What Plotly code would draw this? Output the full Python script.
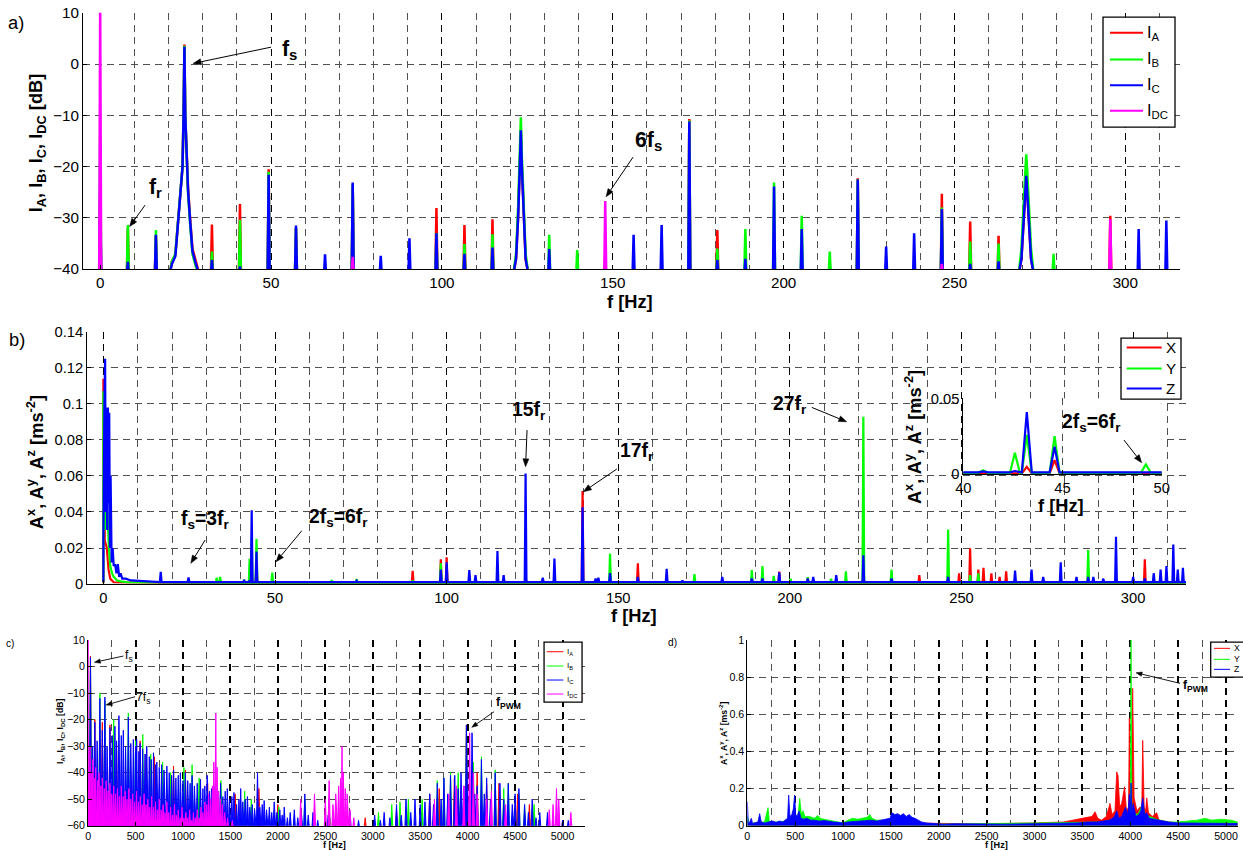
import math
import plotly.graph_objects as go

# Reference pixel coordinates (1243 x 850) are mapped to figure pixels.  The page is
# shown with an 8 px body margin and is photographed slightly scaled, so positions
# are converted with the factors below (measured from earlier renders).
PW, PH = 1243, 850
KX, KY = 1259 / 1243, 866 / 850
MARG = 8
FW, FH = 1251, 858
KF = (KX + KY) / 2           # font / size compensation
RED, GREEN, BLUE, MAGENTA = "#ff0000", "#00ff00", "#0000ff", "#ff00ff"
FONT = "Liberation Sans, Arial, Helvetica, sans-serif"
GRID = "#505050"
DASH = "7px,5px"

# ---------------- Panel a: phase / DC current spectra [dB] ----------------
A_IA = [(0, -25), (8.1, -32), (16.3, -33.5), (32.7, -31.3), (40.9, -27.3), (49.3, -20.5), (57.3, -32),
        (73.9, -23.5), (98.4, -28.1), (106.6, -31.4), (114.8, -30.3), (147.8, -39), (172.4, -10.7),
        (180.6, -32.4), (221.7, -22.3), (246.3, -25.3), (254.6, -30.7), (262.9, -33.5), (295.6, -29.6)]
A_IB = [(0, -14), (8.1, -31.4), (16.3, -32.4), (32.7, -36.6), (40.9, -30.4), (49.3, -21), (57.3, -32),
        (73.9, -23.5), (98.4, -33), (106.6, -35.1), (114.8, -33.2), (131.4, -33.3), (139.6, -36.3),
        (172.4, -11), (180.6, -36), (188.8, -32.2), (197.2, -23.1), (205.3, -29.6), (213.5, -36.6),
        (221.7, -22.5), (246.3, -28), (254.6, -34.6), (262.9, -35), (279.0, -37)]
A_IC = [(0, -26), (8.1, -38.6), (16.3, -33.3), (32.7, -38.2), (40.9, -39.5), (49.3, -21.6), (57.3, -31.5),
        (65.8, -37.1), (73.9, -23.1), (82.1, -37.4), (90.5, -34), (98.4, -33), (106.6, -37), (114.8, -35.8),
        (131.4, -36.1), (156.1, -33.3), (164.3, -31.4), (172.4, -11.2), (180.6, -38.2), (188.8, -38),
        (197.2, -23.9), (205.3, -32.2), (221.7, -22.5), (230.0, -35.6), (238.2, -33), (246.3, -28.3),
        (254.6, -39), (262.9, -38.5), (303.9, -32.2), (312.0, -30.5)]
A_IDC = [(0, 12), (73.9, -37.6), (147.8, -26.7), (246.3, -39), (295.6, -30.3)]

# broad peaks (fs, 5fs, 11fs) read point by point
A_FS_F = [20.3, 21.0, 22.0, 22.9, 23.6, 24.1, 24.4, 24.65, 24.9, 25.3, 25.7, 26.3, 27.0, 28.0, 29.0]
A_FS_IA = [-41, -38.5, -37.2, -30, -25, -20, -10, 3.8, -10, -18, -24, -30, -36, -38.5, -41]
A_FS_IB = [-41, -38.5, -37, -30, -25, -20, -10, 3.6, -10, -19, -25, -31, -37, -39.5, -41]
A_FS_IC = [-41, -39, -37.5, -30.5, -25.5, -20, -10, 3.4, -10, -18.5, -24.5, -30.5, -36.5, -39, -41]
A_5FS_F = [120.9, 121.7, 122.3, 122.8, 123.1, 123.4, 123.9, 124.5, 125.3]
A_5FS_IA = [-41, -38, -30, -20, -13.5, -20, -30, -38, -41]
A_5FS_IB = [-41, -37, -28, -18, -10.4, -18, -28, -37, -41]
A_5FS_IC = [-41, -38, -30, -20, -12.9, -20, -30, -38, -41]
A_11FS_F = [268.8, 269.6, 270.3, 270.7, 271.0, 271.3, 271.7, 272.4, 273.2]
A_11FS_IA = [-41, -38, -30, -25, -22.5, -25, -30, -38, -41]
A_11FS_IB = [-41, -36, -27, -21, -17.6, -21, -27, -36, -41]
A_11FS_IC = [-41, -38, -30, -25, -21.8, -25, -30, -38, -41]

# ---------------- Panel b: vibration spectra [m s^-2] ----------------
B_X = [(43.2, 0.0048), (44.6, 0.0092), (90.1, 0.0074), (98.3, 0.0137), (100.0, 0.0148), (123.0, 0.004),
       (139.6, 0.0516), (155.7, 0.0115), (196.9, 0.0069), (221.4, 0.004), (237.7, 0.005), (249.3, 0.006),
       (252.5, 0.0198), (254.9, 0.008), (256.4, 0.009), (258.7, 0.006), (261.1, 0.004), (263.0, 0.007),
       (303.4, 0.0137)]
B_Y = [(33.0, 0.0035), (34.0, 0.004), (41.0, 0.0025), (42.6, 0.014), (43.2, 0.0258), (44.6, 0.025),
       (49.2, 0.0064), (66.5, 0.0022), (73.8, 0.0028), (90.1, 0.002), (98.3, 0.0115), (123.0, 0.003),
       (131.4, 0.003), (139.6, 0.005), (147.6, 0.017), (172.2, 0.0055), (188.9, 0.0078), (192.0, 0.010),
       (195.3, 0.0045), (200.2, 0.003), (205.2, 0.0038), (212.0, 0.003), (216.3, 0.007), (221.4, 0.0928),
       (229.6, 0.008), (246.1, 0.0303), (252.5, 0.005), (254.9, 0.006), (286.9, 0.0189), (295.0, 0.004)]
B_Z = [(16.7, 0.0068), (24.8, 0.0037), (41.0, 0.0018), (42.6, 0.002), (43.2, 0.041), (44.6, 0.018),
       (63.0, 0.0015), (73.8, 0.0018), (98.3, 0.0081), (100.0, 0.012), (106.6, 0.0078), (108.4, 0.005),
       (114.8, 0.0183), (116.6, 0.005), (123.0, 0.0614), (128.0, 0.0035), (131.4, 0.0142), (139.6, 0.0426),
       (143.4, 0.003), (144.2, 0.0035), (147.6, 0.006), (155.7, 0.004), (164.1, 0.0085), (168.7, 0.002),
       (180.3, 0.004), (188.9, 0.003), (192.0, 0.003), (196.9, 0.0065), (205.2, 0.003), (206.8, 0.004),
       (213.5, 0.005), (221.4, 0.016), (229.6, 0.003), (246.1, 0.004), (265.6, 0.0075), (270.4, 0.008),
       (273.8, 0.004), (278.9, 0.012), (283.5, 0.004), (286.9, 0.004), (288.4, 0.004), (291.3, 0.003),
       (295.0, 0.0262), (300.0, 0.004), (303.4, 0.003), (306.0, 0.006), (308.0, 0.008), (309.7, 0.010),
       (311.7, 0.022), (313.0, 0.008), (314.5, 0.009)]
# low-frequency part (0-14 Hz), read point by point
B_X_LOW = [(0, 0.114), (0.2, 0.06), (0.4, 0.024), (1.0, 0.02), (1.5, 0.008), (2.0, 0.003), (3.0, 0.001)]
B_Y_LOW = [(0, 0.107), (0.3, 0.03), (0.6, 0.046), (0.9, 0.03), (1.2, 0.04), (1.6, 0.02), (2.0, 0.01),
           (2.5, 0.006), (3.0, 0.004), (4.0, 0.002), (5.0, 0.0015), (7.0, 0.001)]
B_Z_LOW = [(0, 0.024), (0.3, 0.10), (0.5, 0.125), (0.7, 0.04), (0.9, 0.098), (1.1, 0.03), (1.3, 0.098),
           (1.5, 0.045), (1.7, 0.095), (1.9, 0.02), (2.1, 0.06), (2.4, 0.012), (2.7, 0.02), (3.0, 0.01),
           (3.4, 0.011), (3.8, 0.006), (4.2, 0.011), (4.6, 0.004), (5.0, 0.006), (5.5, 0.003), (6.5, 0.003),
           (8.0, 0.002), (10.0, 0.0018), (12.0, 0.0015), (14.0, 0.0012)]

# ---------------- Panel c: wide-band current spectra [dB] ----------------
C_IA = [(25, 4), (71, -20), (150, -21), (230, -22), (300, -29), (548, -28), (610, -33), (700, -34),
        (900, -37.5), (1025, -39), (1180, -43), (1260, -44), (1550, -48), (1800, -46), (2000, -52),
        (2920, -57), (3250, -54), (3600, -48), (3700, -46), (3860, -42), (3987, -22), (4100, -40),
        (4200, -44), (4330, -44), (4526, -48), (4650, -52)]
C_IB = [(25, 3.6), (124, -10), (177, -13), (270, -20), (424, -17.5), (500, -28), (576, -25.6), (660, -33),
        (785, -36), (870, -40), (1010, -38), (1096, -37), (1170, -42), (1400, -43), (1650, -47), (1720, -50),
        (2010, -53), (2284, -50), (2550, -57), (3060, -55), (3200, -52), (3287, -51), (3375, -50),
        (3520, -50), (3680, -43), (3749, -42), (3820, -40), (3900, -40), (3987, -23), (4060, -36),
        (4145, -34), (4290, -39), (4380, -46), (4428, -44), (4540, -48), (4600, -53), (4700, -52)]
C_IC = [(25, 3.5), (48, -30), (71, -21), (95, -28), (124, -12), (150, -24), (177, -11.5), (200, -30),
        (230, -23), (255, -26), (283, -22.5), (300, -28), (325, -18.5), (350, -26), (371, -24), (395, -30),
        (424, -19), (450, -29), (477, -27.5), (500, -30), (512, -27.5), (535, -32), (548, -29), (575, -31),
        (600, -33), (618, -30), (645, -34), (665, -35), (689, -32.5), (710, -37), (724, -36), (750, -38),
        (775, -37), (800, -39), (830, -37.5), (855, -40), (880, -41), (901, -39), (925, -42), (950, -41),
        (972, -40), (1000, -43), (1025, -40), (1050, -43), (1075, -44), (1096, -41), (1120, -45),
        (1150, -44), (1184, -42.5), (1210, -46), (1230, -45), (1255, -41), (1280, -47), (1300, -46),
        (1325, -45), (1350, -48), (1375, -47), (1396, -44), (1420, -49), (1445, -47), (1467, -46),
        (1490, -50), (1515, -49), (1537, -47.5), (1565, -52), (1590, -50), (1608, -46), (1630, -51),
        (1655, -50), (1679, -49), (1705, -53), (1730, -52), (1755, -54), (1785, -40), (1810, -53),
        (1835, -52), (1855, -50.5), (1880, -54), (1910, -53), (1935, -55), (1961, -51), (1990, -55),
        (2020, -54), (2045, -56), (2067, -53), (2100, -57), (2130, -55), (2173, -54), (2210, -57),
        (2250, -56), (2284, -48), (2320, -56), (2370, -55), (2420, -58), (2530, -56), (2600, -58),
        (2700, -57), (2760, -55), (2850, -58), (3020, -56), (3080, -58), (3120, -55), (3180, -57),
        (3250, -52), (3300, -56), (3350, -50), (3400, -55), (3445, -50), (3500, -52), (3550, -51),
        (3600, -48), (3640, -52), (3680, -44), (3720, -50), (3750, -42), (3790, -48), (3819, -41),
        (3864, -41), (3900, -46), (3930, -40), (3960, -45), (3987, -22), (4015, -50), (4046, -25),
        (4075, -48), (4100, -45), (4145, -35), (4175, -48), (4200, -42), (4240, -50), (4290, -40),
        (4340, -44), (4380, -50), (4428, -44), (4470, -52), (4500, -48), (4540, -46), (4600, -52),
        (4640, -55), (4680, -50), (4720, -57), (4760, -55), (4841, -55), (4900, -58), (4960, -57),
        (5000, -58), (5060, -58)]
C_IDC = [(0, 12), (10, -38), (20, -30), (35, -40), (50, -35), (65, -42), (80, -38), (100, -43), (115, -40),
         (135, -45), (150, -42), (170, -46), (190, -43), (210, -47), (230, -44), (250, -48), (270, -45),
         (290, -48), (310, -46), (330, -49), (350, -45), (370, -49), (390, -47), (410, -50), (430, -46),
         (450, -50), (470, -48), (490, -51), (510, -47), (530, -51), (550, -49), (570, -52), (590, -48),
         (610, -52), (630, -50), (650, -53), (670, -49), (690, -53), (710, -51), (730, -54), (750, -50),
         (770, -54), (790, -52), (810, -55), (830, -51), (850, -55), (870, -53), (890, -56), (910, -52),
         (930, -56), (950, -54), (970, -57), (990, -53), (1010, -57), (1030, -55), (1050, -57), (1070, -54),
         (1090, -58), (1110, -55), (1130, -57), (1150, -54), (1170, -57), (1190, -53), (1210, -55),
         (1230, -51), (1250, -52), (1270, -48), (1290, -50), (1310, -45), (1325, -36), (1346, -17.5),
         (1360, -38), (1375, -47), (1395, -50), (1415, -52), (1440, -55), (1470, -57), (1520, -58),
         (2240, -50), (2386, -48), (2500, -50), (2540, -43), (2580, -52), (2610, -48), (2640, -45),
         (2660, -42), (2676, -30), (2690, -40), (2710, -46), (2730, -48), (2760, -54), (2800, -57),
         (3650, -50), (3800, -48), (3880, -45), (3960, -45), (4021, -25), (4060, -40), (4100, -48),
         (4200, -50), (4250, -47), (4400, -52), (4860, -54), (4900, -52), (4936, -46), (4960, -50),
         (5087, -55)]

# ---------------- Panel d: wide-band vibration spectra [m s^-2] ----------------
D_X = [(0, 0.02), (50, 0.01), (500, 0.02), (1000, 0.01), (1500, 0.015), (2000, 0.012), (2500, 0.01),
       (3000, 0.015), (3300, 0.02), (3400, 0.03), (3480, 0.04), (3550, 0.045), (3600, 0.05), (3632, 0.075),
       (3660, 0.04), (3700, 0.03), (3750, 0.05), (3788, 0.12), (3810, 0.06), (3840, 0.08), (3858, 0.29),
       (3872, 0.27), (3890, 0.1), (3910, 0.12), (3941, 0.21), (3960, 0.08), (3982, 0.1), (3990, 0.58),
       (4000, 0.12), (4010, 0.1), (4025, 0.74), (4040, 0.15), (4070, 0.08), (4100, 0.1), (4120, 0.1),
       (4130, 0.46), (4145, 0.1), (4160, 0.08), (4172, 0.15), (4190, 0.07), (4230, 0.05), (4276, 0.07),
       (4300, 0.03), (4400, 0.02), (4500, 0.015), (5122, 0.01)]
D_Y = [(0, 0.05), (20, 0.01), (60, 0.015), (120, 0.02), (180, 0.02), (216, 0.097), (230, 0.02), (300, 0.02),
       (400, 0.025), (460, 0.03), (500, 0.04), (530, 0.06), (547, 0.147), (565, 0.06), (582, 0.08),
       (600, 0.05), (650, 0.05), (700, 0.04), (738, 0.055), (760, 0.04), (800, 0.035), (850, 0.03),
       (900, 0.025), (950, 0.02), (1000, 0.015), (1050, 0.03), (1100, 0.04), (1150, 0.035), (1200, 0.04),
       (1250, 0.045), (1280, 0.06), (1300, 0.04), (1350, 0.03), (1400, 0.03), (1500, 0.02), (1600, 0.02),
       (1700, 0.015), (1800, 0.01), (2000, 0.008), (2500, 0.012), (3000, 0.012), (3300, 0.015),
       (3500, 0.02), (3700, 0.02), (3800, 0.03), (3900, 0.04), (3980, 0.05), (4000, 0.06), (4008, 1.0),
       (4016, 0.08), (4040, 0.07), (4080, 0.06), (4130, 0.12), (4150, 0.06), (4200, 0.05), (4300, 0.03),
       (4400, 0.02), (4500, 0.02), (4600, 0.025), (4700, 0.03), (4780, 0.04), (4850, 0.03), (4950, 0.035),
       (5050, 0.03), (5122, 0.02)]
D_Z = [(0, 0.13), (10, 0.01), (25, 0.02), (42, 0.04), (55, 0.012), (80, 0.015), (110, 0.02), (129, 0.065),
       (145, 0.02), (180, 0.015), (220, 0.02), (260, 0.025), (300, 0.018), (338, 0.025), (370, 0.02),
       (400, 0.03), (420, 0.04), (432, 0.165), (445, 0.05), (465, 0.06), (480, 0.09), (494, 0.165),
       (505, 0.06), (520, 0.05), (540, 0.08), (560, 0.04), (590, 0.035), (620, 0.04), (660, 0.03),
       (700, 0.03), (750, 0.025), (800, 0.028), (850, 0.022), (900, 0.02), (950, 0.018), (1000, 0.015),
       (1050, 0.02), (1100, 0.022), (1150, 0.02), (1200, 0.025), (1250, 0.028), (1300, 0.03), (1350, 0.025),
       (1400, 0.03), (1450, 0.035), (1490, 0.04), (1510, 0.07), (1540, 0.06), (1570, 0.065), (1600, 0.055),
       (1630, 0.065), (1660, 0.05), (1690, 0.06), (1720, 0.045), (1750, 0.04), (1780, 0.03), (1820, 0.02),
       (1870, 0.015), (1920, 0.012), (1980, 0.01), (2050, 0.008), (2150, 0.01), (2300, 0.008),
       (2500, 0.009), (2700, 0.008), (2900, 0.01), (3100, 0.008), (3300, 0.012), (3450, 0.015),
       (3550, 0.02), (3650, 0.02), (3720, 0.025), (3780, 0.03), (3830, 0.045), (3860, 0.08), (3880, 0.04),
       (3910, 0.05), (3950, 0.1), (3975, 0.06), (3990, 0.17), (4000, 0.05), (4008, 0.23), (4016, 0.06),
       (4030, 0.12), (4060, 0.05), (4090, 0.06), (4110, 0.08), (4130, 0.15), (4150, 0.06), (4172, 0.07),
       (4200, 0.04), (4250, 0.035), (4300, 0.03), (4400, 0.02), (4500, 0.015), (4650, 0.015),
       (4800, 0.012), (4950, 0.012), (5122, 0.012)]

fig = go.Figure()


def spikes(peaks, hw, floor, xmin, xmax, segments=()):
    """Spectrum polyline: each peak is a narrow spike from the floor; segments are drawn as read."""
    pk = sorted(peaks)
    segs = []
    for i, (f, v) in enumerate(pk):
        left, right = f - hw, f + hw
        if i > 0:
            left = max(left, (pk[i - 1][0] + f) / 2)
        if i < len(pk) - 1:
            right = min(right, (f + pk[i + 1][0]) / 2)
        segs.append([(left, floor), (f, v), (right, floor)])
    for s in segments:
        segs.append(list(s))
    segs.sort(key=lambda s: s[0][0])
    xs, ys = [xmin], [floor]
    for s in segs:
        for f, v in s:
            xs.append(f)
            ys.append(v)
    xs.append(xmax)
    ys.append(floor)
    return xs, ys


def add(xs, ys, color, width, ax, fill=None):
    fig.add_trace(go.Scatter(
        x=xs, y=ys, mode="lines", line=dict(color=color, width=width),
        fill=fill, fillcolor=color if fill else None,
        xaxis="x" + ax, yaxis="y" + ax, showlegend=False, hoverinfo="skip"))


# panel a
a_series = [
    (A_IA, RED, [list(zip(A_FS_F, A_FS_IA)), list(zip(A_5FS_F, A_5FS_IA)), list(zip(A_11FS_F, A_11FS_IA))]),
    (A_IB, GREEN, [list(zip(A_FS_F, A_FS_IB)), list(zip(A_5FS_F, A_5FS_IB)), list(zip(A_11FS_F, A_11FS_IB))]),
    (A_IC, BLUE, [list(zip(A_FS_F, A_FS_IC)), list(zip(A_5FS_F, A_5FS_IC)), list(zip(A_11FS_F, A_11FS_IC))]),
    (A_IDC, MAGENTA, []),
]
for pk, col, segs in a_series:
    xs, ys = spikes(pk, 0.3, -41, -5, 316, segs)
    add(xs, ys, col, 2.5, "")

# panel b + inset
b_series = [(B_X, B_X_LOW, RED, 0.0005), (B_Y, B_Y_LOW, GREEN, 0.0008), (B_Z, B_Z_LOW, BLUE, 0.0011)]
for pk, low, col, fl in b_series:
    xs, ys = spikes(pk, 0.25, fl, 0, 316, [low])
    add(xs, ys, col, 2.2, "2")
    add(xs, ys, col, 2.2, "3")

# panel c
for pk, col in [(C_IA, RED), (C_IB, GREEN), (C_IC, BLUE), (C_IDC, MAGENTA)]:
    xs, ys = spikes(pk, 12, -61, 0, 5240)
    add(xs, ys, col, 1.0, "4", fill="toself")

# panel d
for pts, col in [(D_X, RED), (D_Y, GREEN), (D_Z, BLUE)]:
    xs = [p[0] for p in pts]
    ys = [p[1] for p in pts]
    add(xs, ys, col, 0.8, "5", fill="tozeroy")


def PX(x):
    return (x * KX - MARG) / FW


def PY(y):
    return 1 - (y * KY - MARG) / FH


def dx(l, r):
    return [max(0.0, PX(l)), min(1.0, PX(r))]


def dy(t, b):
    return [max(0.0, PY(b)), min(1.0, PY(t))]


def axis(dom, rng, dtick, fsize, anchor, minor=None, major_col=GRID, major_w=1, fmt=None):
    d = dict(domain=dom, range=rng, dtick=dtick, tick0=0, anchor=anchor,
             showline=True, linecolor="black", linewidth=1, mirror=False,
             ticks="inside", ticklen=4, tickcolor="black", zeroline=False,
             showgrid=True, gridcolor=major_col, gridwidth=major_w, griddash=DASH,
             tickfont=dict(family=FONT, size=fsize * KF, color="black"))
    if fmt:
        d["tickformat"] = fmt
    if minor:
        d["minor"] = dict(dtick=minor, tick0=0, showgrid=True, gridcolor=GRID, gridwidth=1, griddash=DASH)
    return d


fig.update_layout(
    width=FW, height=FH, margin=dict(l=0, r=0, t=0, b=0), autosize=False,
    paper_bgcolor="white", plot_bgcolor="white",
    font=dict(family=FONT, color="black"),
    xaxis=axis(dx(83, 1180), [-5, 316], 50, 15, "y", minor=10, major_col="black", major_w=1.3),
    yaxis=axis(dy(12.7, 269), [-40, 10], 10, 15, "x"),
    xaxis2=axis(dx(87, 1186), [-4.75, 315.4], 50, 14.5, "y2", minor=10, major_col="black", major_w=1.3),
    yaxis2=axis(dy(331.7, 584), [0, 0.14], 0.02, 14.5, "x2"),
    xaxis3=axis(dx(963.3, 1161.7), [40, 50], 5, 14.5, "y3"),
    yaxis3=axis(dy(398.3, 474), [0, 0.05], 0.05, 14.5, "x3"),
    xaxis4=axis(dx(88, 585), [0, 5237], 500, 10.5, "y4", minor=250, major_col="black", major_w=1.5, fmt="d"),
    yaxis4=axis(dy(640, 825.7), [-60, 10], 10, 10.5, "x4"),
    xaxis5=axis(dx(747.3, 1237.7), [0, 5122], 500, 10.5, "y5", minor=250, major_col="black", major_w=1.5,
                fmt="d"),
    yaxis5=axis(dy(640, 825.7), [0, 1], 0.2, 10.5, "x5"),
)

ann = []
shapes = []


def text(x, y, s, size, bold=False, angle=0, xanchor="center"):
    ann.append(dict(x=PX(x), y=PY(y), xref="paper", yref="paper", text=("<b>%s</b>" % s) if bold else s,
                    showarrow=False, textangle=angle, xanchor=xanchor, yanchor="middle",
                    font=dict(family=FONT, size=size * KF, color="black")))


def arrow(tx, ty, hx, hy, w=1.0, head=8.0, half=3.0):
    """Arrow drawn as a line plus a filled triangular head (reference pixel coordinates)."""
    L = math.hypot(hx - tx, hy - ty)
    ux, uy = (hx - tx) / L, (hy - ty) / L
    bx, by = hx - head * ux, hy - head * uy
    nx, ny = -uy, ux
    shapes.append(dict(type="line", xref="paper", yref="paper", x0=PX(tx), y0=PY(ty), x1=PX(bx), y1=PY(by),
                       line=dict(color="black", width=w)))
    pts = [(hx, hy), (bx + half * nx, by + half * ny), (bx - half * nx, by - half * ny)]
    path = "M %.5f,%.5f L %.5f,%.5f L %.5f,%.5f Z" % tuple(v for p in pts for v in (PX(p[0]), PY(p[1])))
    shapes.append(dict(type="path", xref="paper", yref="paper", path=path, fillcolor="black",
                       line=dict(color="black", width=0.5)))


def legend(box, entries, x_line, x_text, fsize, lw):
    x0, y0, x1, y1 = box
    shapes.append(dict(type="rect", xref="paper", yref="paper", x0=PX(x0), x1=PX(x1), y0=PY(y1),
                       y1=PY(y0), line=dict(color="black", width=1.3), fillcolor="white", layer="above"))
    for (lab, col, yy) in entries:
        shapes.append(dict(type="line", xref="paper", yref="paper", x0=PX(x_line[0]), x1=PX(x_line[1]),
                           y0=PY(yy), y1=PY(yy), line=dict(color=col, width=lw)))
        text(x_text, yy, lab, fsize, xanchor="left")


# panel labels
text(16, 22, "a)", 18)
text(17, 339, "b)", 18)
text(10, 643, "c)", 10)
text(672, 642, "d)", 10)

# axis titles
YA = "I<sub>A</sub>, I<sub>B</sub>, I<sub>C</sub>, I<sub>DC</sub> [dB]"
YB = "A<sup>x</sup>, A<sup>y</sup>, A<sup>z</sup> [ms<sup>-2</sup>]"
text(37, 143, YA, 18, bold=True, angle=-90)
text(35, 462, YB, 18, bold=True, angle=-90)
text(913, 437, YB, 18, bold=True, angle=-90)
text(60, 731, YA, 8.5, bold=True, angle=-90)
text(723, 734, YB, 8.5, bold=True, angle=-90)
text(630, 301, "f [Hz]", 18, bold=True)
text(634, 615, "f [Hz]", 18, bold=True)
text(1061, 505, "f [Hz]", 18, bold=True)
text(334, 845, "f [Hz]", 9, bold=True)
text(996, 845, "f [Hz]", 9, bold=True)

# panel a annotations
text(289, 50, "f<sub>s</sub>", 21, bold=True)
arrow(271, 47, 193, 63.3)
text(155, 188, "f<sub>r</sub>", 21, bold=True)
arrow(145, 205, 129.5, 226.5)
text(648, 141, "6f<sub>s</sub>", 21, bold=True)
arrow(633, 157, 606, 196.7)

# panel b annotations
text(205, 520, "f<sub>s</sub>=3f<sub>r</sub>", 19, bold=True)
arrow(205, 540, 190.7, 563.3)
text(338, 518, "2f<sub>s</sub>=6f<sub>r</sub>", 19, bold=True)
arrow(301.7, 530.7, 276, 561.7)
text(529, 411, "15f<sub>r</sub>", 19, bold=True)
arrow(527, 430, 525.5, 466.7)
text(637, 452, "17f<sub>r</sub>", 19, bold=True)
arrow(616.7, 469, 583.3, 491.7)
text(790, 405, "27f<sub>r</sub>", 19, bold=True)
arrow(811.7, 407.3, 846.7, 421.7)
text(1091, 423, "2f<sub>s</sub>=6f<sub>r</sub>", 19, bold=True)
arrow(1124, 440, 1141.7, 462.7)

# panel c / d annotations
text(129, 656, "f<sub>s</sub>", 12)
arrow(123.3, 656, 94.3, 662.3, w=0.9, head=6, half=2.2)
text(143, 698, "7f<sub>s</sub>", 12)
arrow(135, 696.7, 106, 705, w=0.9, head=6, half=2.2)
text(508, 703, "f<sub>PWM</sub>", 12, bold=True)
arrow(494, 711.7, 471.7, 727.3, w=0.9, head=6, half=2.2)
text(1195, 686, "f<sub>PWM</sub>", 12, bold=True)
arrow(1180, 683.3, 1136, 672.7, w=0.9, head=6, half=2.2)

# legends
legend((1103, 17, 1175, 127),
       [("I<sub>A</sub>", RED, 32.7), ("I<sub>B</sub>", GREEN, 59.3), ("I<sub>C</sub>", BLUE, 85),
        ("I<sub>DC</sub>", MAGENTA, 110.7)], (1110, 1143), 1145, 16, 2)
legend((1121, 338, 1181, 399),
       [("X", RED, 347.3), ("Y", GREEN, 368.3), ("Z", BLUE, 388.3)], (1126.7, 1161.7), 1164, 15, 2)
legend((544, 642, 582, 702),
       [("I<sub>A</sub>", RED, 651.7), ("I<sub>B</sub>", GREEN, 666), ("I<sub>C</sub>", BLUE, 680),
        ("I<sub>DC</sub>", MAGENTA, 694)], (546.7, 563.3), 565, 8, 1)
legend((1210.7, 642, 1250, 677),
       [("X", RED, 648.3), ("Y", GREEN, 659.3), ("Z", BLUE, 669.3)], (1214, 1230), 1232, 8.5, 1)

fig.update_layout(annotations=ann, shapes=shapes)
fig.write_html("out.html", config={"displayModeBar": False})
